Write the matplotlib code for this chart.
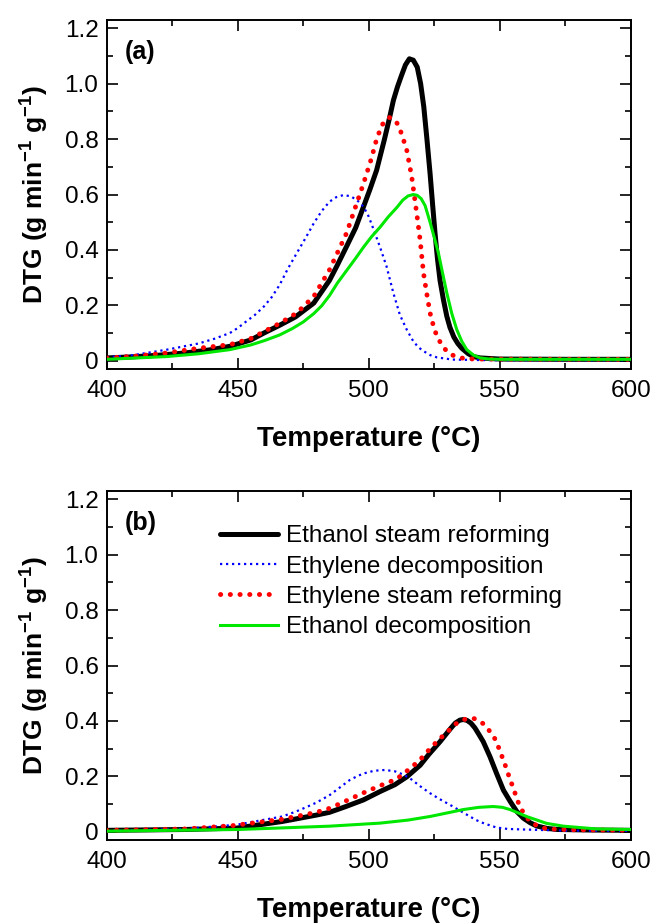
import numpy as np
import matplotlib
matplotlib.use("Agg")
import matplotlib.pyplot as plt
from matplotlib.ticker import MultipleLocator, FuncFormatter

plt.rcParams['font.family'] = ['Liberation Sans', 'DejaVu Sans']
plt.rcParams['mathtext.fontset'] = 'custom'
plt.rcParams['mathtext.rm'] = 'Liberation Sans'
plt.rcParams['mathtext.bf'] = 'Liberation Sans:bold'
plt.rcParams['mathtext.default'] = 'bf'

# ---- panel (a) ----
t_esr_a = [400, 410, 420, 430, 440, 447, 455, 460, 466, 472, 479, 485, 488, 491.5, 495, 498,
           500.5, 503, 506, 508, 509.4, 511, 512.5, 514, 515.5, 517, 518.5, 519.8, 521, 522.2,
           523.4, 524.4, 525.3, 526.2, 527.2, 528.5, 529.8, 531, 532.5, 534, 535.5, 538, 540,
           542.5, 550, 575, 600]
y_esr_a = [0.010, 0.014, 0.020, 0.028, 0.040, 0.052, 0.075, 0.100, 0.128, 0.158, 0.208, 0.290,
           0.345, 0.412, 0.480, 0.556, 0.620, 0.688, 0.800, 0.880, 0.940, 0.990, 1.030, 1.068,
           1.090, 1.085, 1.060, 1.000, 0.917, 0.800, 0.676, 0.560, 0.460, 0.370, 0.290, 0.220,
           0.160, 0.120, 0.085, 0.062, 0.045, 0.025, 0.015, 0.010, 0.006, 0.005, 0.005]

t_ed_a = [400, 410, 423, 435, 441, 447, 450, 453, 456.5, 460, 463, 466, 469, 472.5, 476, 479,
          482, 485, 487.5, 490.3, 493, 495.5, 498, 500, 502, 504.3, 506.8, 509.4, 511.9, 514.5,
          517, 519, 521, 523.5, 526, 532, 545, 600]
y_ed_a = [0.013, 0.020, 0.040, 0.062, 0.079, 0.100, 0.118, 0.140, 0.165, 0.196, 0.230, 0.274,
          0.330, 0.388, 0.445, 0.496, 0.540, 0.574, 0.590, 0.598, 0.594, 0.580, 0.556, 0.520,
          0.470, 0.410, 0.340, 0.244, 0.165, 0.112, 0.070, 0.048, 0.034, 0.020, 0.012, 0.004,
          0.002, 0.002]

t_esr2_a = [400, 410, 423, 435, 447, 455, 460, 466, 472.5, 479, 485, 491.5, 498, 501, 503,
            505, 507, 508, 509.5, 511, 512.5, 514.5, 516.4, 518.3, 519.6, 520.9, 522.1, 523.4,
            524.7, 526, 528, 529.8, 532, 535, 540, 600]
y_esr2_a = [0.010, 0.016, 0.028, 0.045, 0.058, 0.080, 0.105, 0.135, 0.172, 0.232, 0.328, 0.460,
            0.640, 0.730, 0.800, 0.850, 0.875, 0.878, 0.872, 0.855, 0.820, 0.760, 0.664, 0.532,
            0.436, 0.316, 0.244, 0.172, 0.125, 0.088, 0.055, 0.034, 0.020, 0.010, 0.006, 0.005]

t_edec_a = [400, 423, 435, 447, 455, 460, 466, 471, 475, 479, 482, 485, 488, 491.5, 495, 498,
            501, 504.3, 507.5, 510.7, 513, 515, 517, 518.5, 520, 521.5, 523.4, 525, 526.6,
            528.2, 529.8, 531.7, 533.6, 535.5, 537.4, 540, 542.5, 546, 550, 600]
y_edec_a = [0.005, 0.015, 0.025, 0.040, 0.057, 0.072, 0.093, 0.117, 0.140, 0.170, 0.198, 0.235,
            0.280, 0.325, 0.370, 0.410, 0.447, 0.482, 0.520, 0.553, 0.580, 0.595, 0.600, 0.597,
            0.585, 0.560, 0.500, 0.445, 0.388, 0.315, 0.244, 0.170, 0.112, 0.070, 0.040, 0.020,
            0.010, 0.006, 0.005, 0.005]

# ---- panel (b) ----
t_esr_b = [400, 430, 449.5, 467, 480, 485, 491, 498, 504.3, 510, 514.5, 519.6, 523, 527.2,
           531, 533, 534.8, 536.1, 537.5, 539, 540.5, 542, 543.7, 546.3, 548.8, 551.4, 554,
           556.5, 559, 561.5, 564, 568, 572, 585, 600]
y_esr_b = [0.005, 0.008, 0.013, 0.037, 0.060, 0.070, 0.090, 0.115, 0.145, 0.170, 0.198, 0.240,
           0.280, 0.325, 0.370, 0.392, 0.403, 0.405, 0.402, 0.392, 0.375, 0.352, 0.325, 0.270,
           0.210, 0.150, 0.109, 0.073, 0.049, 0.033, 0.021, 0.012, 0.008, 0.006, 0.005]

t_ed_b = [400, 429, 449.5, 467, 472, 476, 480, 485.2, 489, 492.8, 495.5, 497.9, 502, 506.2,
          510, 513, 515.7, 519.5, 523.4, 527, 531, 535, 538.6, 541, 544, 548.8, 553, 559, 575,
          600]
y_ed_b = [0.003, 0.010, 0.025, 0.055, 0.072, 0.088, 0.105, 0.133, 0.160, 0.187, 0.200, 0.210,
          0.220, 0.223, 0.218, 0.207, 0.193, 0.165, 0.139, 0.118, 0.097, 0.075, 0.055, 0.042,
          0.030, 0.015, 0.010, 0.008, 0.004, 0.003]

t_esr2_b = [400, 430, 448, 467, 480, 485.2, 491, 497.9, 504, 510.6, 516, 519.6, 523.4, 527,
            530, 532.5, 535, 537.9, 540.5, 543.7, 546.9, 548.8, 550.1, 551.4, 552.7, 554,
            555.2, 556.5, 557.7, 559.6, 561.6, 564.7, 568, 577, 600]
y_esr2_b = [0.005, 0.010, 0.022, 0.045, 0.070, 0.085, 0.110, 0.140, 0.165, 0.190, 0.230, 0.260,
            0.300, 0.335, 0.360, 0.385, 0.400, 0.410, 0.408, 0.390, 0.355, 0.325, 0.289, 0.259,
            0.223, 0.187, 0.157, 0.120, 0.090, 0.060, 0.037, 0.019, 0.010, 0.007, 0.005]

t_edec_b = [400, 450, 485, 504.3, 515, 523.4, 530, 536.1, 542, 547.5, 551, 553.9, 557, 560.2,
            567.9, 574.3, 587, 600]
y_edec_b = [0.002, 0.008, 0.020, 0.031, 0.042, 0.055, 0.068, 0.080, 0.088, 0.091, 0.088, 0.080,
            0.068, 0.055, 0.030, 0.020, 0.010, 0.008]

labels = ['Ethanol steam reforming', 'Ethylene decomposition',
          'Ethylene steam reforming', 'Ethanol decomposition']

fig = plt.figure(figsize=(6.55, 9.23), dpi=100)
ax_a = fig.add_axes([0.163, 0.6002, 0.8, 0.3781])
ax_b = fig.add_axes([0.163, 0.0899, 0.8, 0.3781])


def draw(ax, esr, ed, esr2, edec):
    ax.plot(*esr, color='black', lw=3.6, solid_capstyle='round', solid_joinstyle='round',
            label=labels[0], zorder=3)
    ax.plot(*ed, color='#0000ff', lw=1.6, linestyle=(0, (1, 1.7)), label=labels[1], zorder=4)
    ax.plot(*esr2, color='#ff0000', lw=3.5, linestyle=(0, (0.05, 1.95)),
            dash_capstyle='round', label=labels[2], zorder=5)
    ax.plot(*edec, color='#00e800', lw=2.2, solid_joinstyle='round', label=labels[3], zorder=6)


draw(ax_a, (t_esr_a, y_esr_a), (t_ed_a, y_ed_a), (t_esr2_a, y_esr2_a), (t_edec_a, y_edec_a))
draw(ax_b, (t_esr_b, y_esr_b), (t_ed_b, y_ed_b), (t_esr2_b, y_esr2_b), (t_edec_b, y_edec_b))

fmt = FuncFormatter(lambda v, p: '0' if abs(v) < 1e-9 else f'{v:.1f}')
for ax, tag in [(ax_a, '(a)'), (ax_b, '(b)')]:
    ax.set_xlim(400, 600)
    ax.set_ylim(-0.03, 1.23)
    ax.xaxis.set_major_locator(MultipleLocator(50))
    ax.xaxis.set_minor_locator(MultipleLocator(25))
    ax.yaxis.set_major_locator(MultipleLocator(0.2))
    ax.yaxis.set_minor_locator(MultipleLocator(0.1))
    ax.yaxis.set_major_formatter(fmt)
    ax.tick_params(which='both', direction='in', top=True, right=True, width=1.2,
                   labelsize=17.5)
    ax.tick_params(which='major', length=8)
    ax.tick_params(which='minor', length=4.5)
    ax.tick_params(axis='x', pad=8)
    ax.tick_params(axis='y', pad=6)
    for s in ax.spines.values():
        s.set_linewidth(1.4)
    ax.set_xlabel('Temperature (°C)', fontsize=20, fontweight='bold', labelpad=17)
    ax.set_ylabel(r'DTG (g min$^{-1}$ g$^{-1}$)', fontsize=19, fontweight='bold', labelpad=10)
    ax.text(0.034, 0.908, tag, transform=ax.transAxes, fontsize=18, fontweight='bold',
            va='center', ha='left')

ax_b.legend(loc='upper left', bbox_to_anchor=(0.216, 0.902), frameon=False, fontsize=17.5,
            handlelength=2.4, handletextpad=0.3, labelspacing=0.34, borderaxespad=0,
            borderpad=0)

fig.savefig('out.png', dpi=100)
